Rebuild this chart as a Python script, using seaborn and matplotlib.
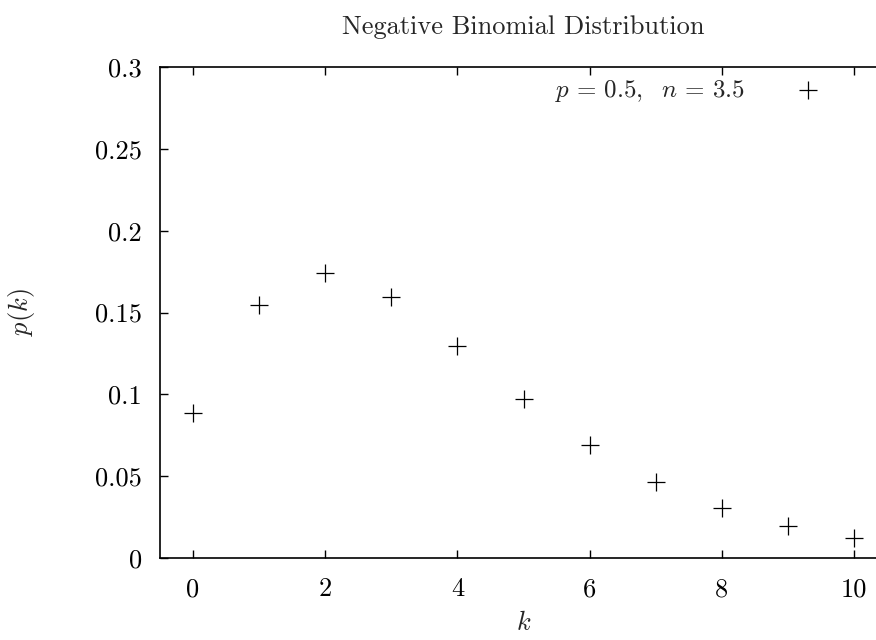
import matplotlib
matplotlib.use("Agg")
import matplotlib.pyplot as plt
import seaborn as sns

k_values = [0, 1, 2, 3, 4, 5, 6, 7, 8, 9, 10]
pk_values = [0.0884, 0.1547, 0.1740, 0.1595, 0.1296, 0.0972, 0.0689, 0.0467, 0.0307, 0.0196, 0.0122]
x_ticks = [0, 2, 4, 6, 8, 10]
y_ticks = [0, 0.05, 0.1, 0.15, 0.2, 0.25, 0.3]
y_tick_labels = ["0", "0.05", "0.1", "0.15", "0.2", "0.25", "0.3"]

sns.set_theme(style="ticks")
plt.rcParams["font.family"] = ["cmr10", "DejaVu Serif"]
plt.rcParams["mathtext.fontset"] = "cm"
plt.rcParams["axes.formatter.use_mathtext"] = True

fig = plt.figure(figsize=(8.76, 6.4), dpi=100)
ax = fig.add_axes([160 / 876, 82 / 640, 727 / 876, 491 / 640])

sns.scatterplot(x=k_values, y=pk_values, marker="+", s=150, color="black",
                linewidth=0.9, ax=ax, label=r"$p\,=\,0.5,\ \ n\,=\,3.5$")

ax.set_xlim(-0.5, 10.5)
ax.set_ylim(0, 0.3)
ax.set_xticks(x_ticks)
ax.set_xticklabels([str(t) for t in x_ticks], fontsize=19)
ax.set_yticks(y_ticks)
ax.set_yticklabels(y_tick_labels, fontsize=19)
ax.tick_params(direction="in", length=6, width=1.0, top=True, right=True,
               colors="black")
ax.tick_params(axis="x", pad=14)
ax.tick_params(axis="y", pad=13)
for s in ax.spines.values():
    s.set_linewidth(1.2)
    s.set_color("black")

ax.set_xlabel(r"$k$", fontsize=19, labelpad=7)
ax.set_ylabel(r"$p(k)$", fontsize=19, labelpad=42)
ax.set_title("Negative Binomial Distribution", fontsize=19, pad=24)

ax.legend(loc="upper right", bbox_to_anchor=(853 / 876, 1 - 65 / 640),
          bbox_transform=fig.transFigure, frameon=False, markerfirst=False,
          fontsize=18, borderpad=0, handletextpad=1.2, handlelength=2.6)

fig.savefig("out.png", dpi=100)
plt.close(fig)
